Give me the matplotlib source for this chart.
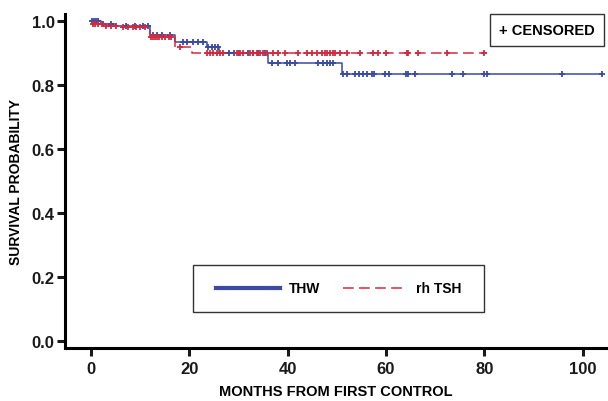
import numpy as np
import matplotlib.pyplot as plt
from matplotlib.patches import Rectangle

plt.rcParams['font.family'] = ['Liberation Sans', 'DejaVu Sans']
plt.rcParams['font.weight'] = 'bold'

# THW: step times (months) and survival after each step
thw_t = [0, 2, 5, 12, 17, 23.5, 26, 36, 51, 104]
thw_s = [1.0, 0.99, 0.985, 0.955, 0.935, 0.92, 0.90, 0.87, 0.833, 0.833]
thw_cens = [0.2, 0.6, 1.0, 1.4, 2.5, 4, 7, 9, 10.5, 11.5, 12.5, 13.5, 14.5, 16,
            18.7, 19.5, 20.7, 21.7, 22.8, 23.8, 24.6, 25.2, 25.8,
            28, 29, 30, 32, 33, 34, 35.4,
            36.8, 38, 39.8, 40.4, 41.5, 46.1, 47.2, 48, 48.6, 49.2,
            51.2, 52, 53.7, 54.5, 55.3, 56.1, 57.1, 57.5, 59.7, 60.6,
            64, 64.4, 65.8, 73.4, 75.6, 80, 80.5, 95.7, 104]

# rh TSH
rh_t = [0, 3, 6, 12, 17, 20.5, 80.5]
rh_s = [0.99, 0.985, 0.98, 0.95, 0.92, 0.90, 0.90]
rh_cens = [0.3, 0.8, 1.5, 2.2, 3, 4, 5, 6.5, 7.5, 8.5, 9.2, 10, 11,
           12.2, 12.6, 13, 13.4, 13.8, 14.5, 15, 15.8, 16.3, 18,
           23.6, 24.2, 24.8, 25.6, 26.2, 26.8, 29.7, 30.3, 30.9, 32.3, 32.9,
           33.7, 34.3, 35, 35.8, 37, 38, 39.4, 42, 44, 45, 46, 47, 47.6, 48,
           48.6, 49.2, 49.6, 50.6, 52, 54.7, 57.3, 58.3, 60, 64.2, 64.4,
           66.5, 72.4, 80]

blue = '#3b4aa3'
red = '#d22a40'


def surv_at(t, times, surv):
    i = np.searchsorted(times, t, side='right') - 1
    return np.array(surv)[i]


fig = plt.figure(figsize=(6.08, 4.02), dpi=100)
ax = fig.add_axes([0.107, 0.132, 0.891, 0.831])

ax.step(thw_t, thw_s, where='post', color=blue, lw=1.1, label='THW')
ax.step(rh_t, rh_s, where='post', color=red, lw=1.1, ls=(0, (7, 3.5)), label='rh TSH')
ax.plot(thw_cens, surv_at(thw_cens, thw_t, thw_s), '+', color=blue, ms=5, mew=1.3)
ax.plot(rh_cens, surv_at(rh_cens, rh_t, rh_s), '+', color=red, ms=5, mew=1.3)

ax.set_xlim(-5.3, 104.9)
ax.set_ylim(-0.022, 1.022)
ax.set_xticks([0, 20, 40, 60, 80, 100])
ax.set_yticks([0.0, 0.2, 0.4, 0.6, 0.8, 1.0])
ax.set_yticklabels(['0.0', '0.2', '0.4', '0.6', '0.8', '1.0'])
for s in ['top', 'right']:
    ax.spines[s].set_visible(False)
for s in ['left', 'bottom']:
    ax.spines[s].set_linewidth(2.2)
ax.tick_params(width=2.2, length=5.5, labelsize=12, colors='#1a1a1a')
ax.tick_params(axis='x', pad=4)
ax.tick_params(axis='y', pad=2)
ax.set_xlabel('MONTHS FROM FIRST CONTROL', fontsize=10.5, fontweight='bold', labelpad=6)
ax.set_ylabel('SURVIVAL PROBABILITY', fontsize=10, fontweight='bold', labelpad=6)

# legend box drawn separately so the entries sit left inside it
ax.add_patch(Rectangle((0.236, 0.108), 0.537, 0.141, transform=ax.transAxes,
                       fc='white', ec='#333333', lw=1, zorder=4))
leg = ax.legend(loc='center left', bbox_to_anchor=(0.278, 0.178), ncol=2,
                handlelength=4.6, handletextpad=0.7, columnspacing=1.6,
                fontsize=10, frameon=False, borderpad=0, borderaxespad=0)
leg.set_zorder(5)
leg.get_lines()[0].set_linewidth(3)

ax.text(0.978, 0.952, '+ CENSORED', transform=ax.transAxes, ha='right', va='center',
        fontsize=10.5, fontweight='bold',
        bbox=dict(boxstyle='square,pad=0.6', fc='white', ec='#333333', lw=1))

fig.savefig('out.png', dpi=100)
